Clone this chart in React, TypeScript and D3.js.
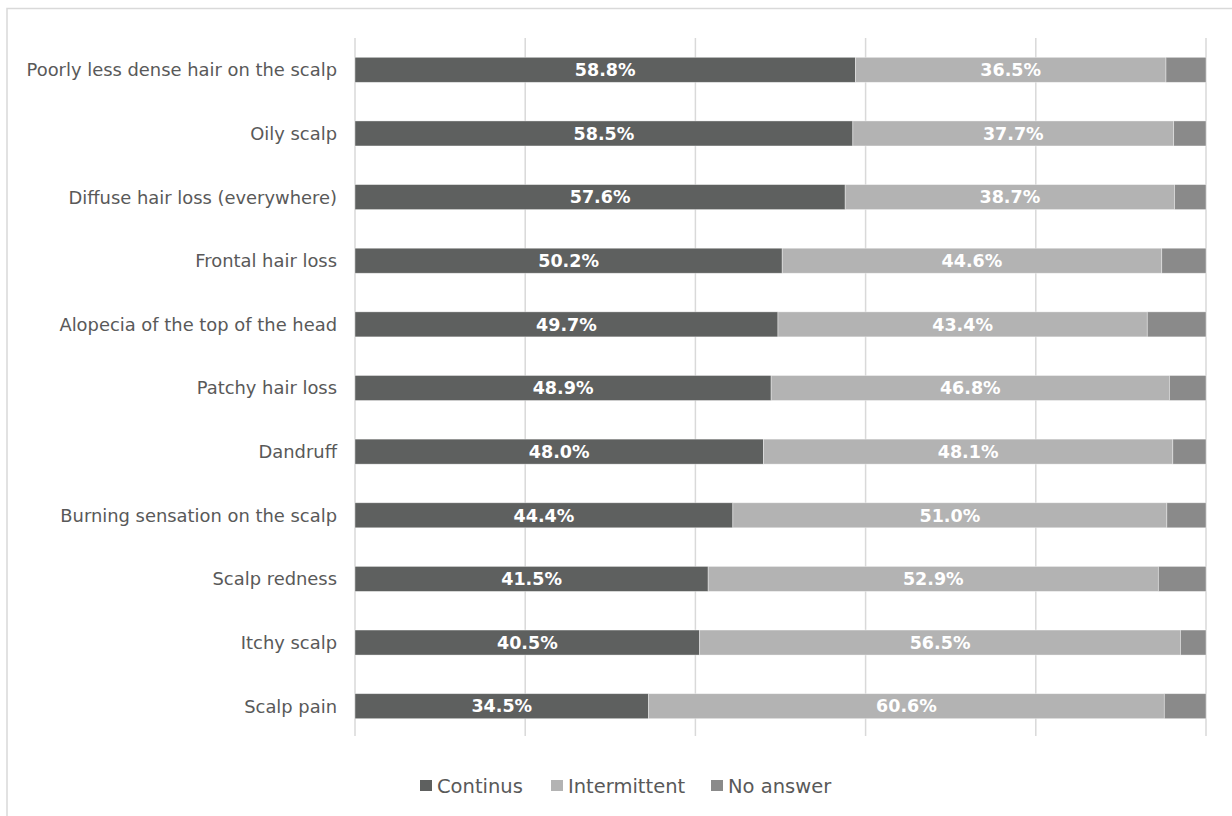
import React from "react";
import * as d3 from "d3";

const categories = [
  "Poorly less dense hair on the scalp",
  "Oily scalp",
  "Diffuse hair loss (everywhere)",
  "Frontal hair loss",
  "Alopecia of the top of the head",
  "Patchy hair loss",
  "Dandruff",
  "Burning sensation on the scalp",
  "Scalp redness",
  "Itchy scalp",
  "Scalp pain",
];
const continus = [58.8, 58.5, 57.6, 50.2, 49.7, 48.9, 48.0, 44.4, 41.5, 40.5, 34.5];
const intermittent = [36.5, 37.7, 38.7, 44.6, 43.4, 46.8, 48.1, 51.0, 52.9, 56.5, 60.6];
const noAnswer = [4.7, 3.8, 3.7, 5.2, 6.9, 4.3, 3.9, 4.6, 5.6, 3.0, 4.9];
const seriesNames = ["Continus", "Intermittent", "No answer"];
const seriesColors = ["#5e605f", "#b3b3b3", "#8a8a8a"];
const xTicks = [0, 20, 40, 60, 80, 100];

export default function App() {
  const W = 1232, H = 816;
  const left = 355, right = 1206, top = 38, bottom = 738;
  const x = d3.scaleLinear().domain([0, 100]).range([left, right]);
  const y = d3.scaleBand().domain(categories).range([top, bottom]).paddingInner(0.607).paddingOuter(0.3035);
  const rows = categories.map((c, i) => ({ c, vals: [continus[i], intermittent[i], noAnswer[i]] }));
  const font = "'DejaVu Sans', sans-serif";
  const legendText = [437, 568, 728];
  return (
    <svg width={W} height={H} style={{ position: "absolute", left: 0, top: 0, background: "#fff" }}>
      <rect x={7} y={8.5} width={1300} height={900} fill="#fff" stroke="#d9d9d9" strokeWidth={1.5} />
      {xTicks.map((t) => (
        <line key={t} x1={x(t)} x2={x(t)} y1={top} y2={736} stroke="#d9d9d9" strokeWidth={1.5} />
      ))}
      {rows.map((r) => {
        let acc = 0;
        const y0 = y(r.c)!;
        return (
          <g key={r.c}>
            {r.vals.map((v, k) => {
              const x0 = x(acc);
              acc += v;
              const x1 = x(Math.min(acc, 100));
              return (
                <g key={k}>
                  <rect x={x0} y={y0} width={x1 - x0} height={y.bandwidth()} fill={seriesColors[k]} stroke="#ffffff" strokeOpacity={0.5} strokeWidth={0.75} />
                  {k < 2 && (
                    <text x={(x0 + x1) / 2} y={y0 + y.bandwidth() / 2} dy="0.36em" textAnchor="middle" fill="#fff" fontWeight="bold" fontSize={17.5} fontFamily={font}>
                      {v.toFixed(1)}%
                    </text>
                  )}
                </g>
              );
            })}
            <text x={337} y={y0 + y.bandwidth() / 2} dy="0.36em" textAnchor="end" fill="#595959" fontSize={17.9} fontFamily={font}>
              {r.c}
            </text>
          </g>
        );
      })}
      {seriesNames.map((s, i) => (
        <g key={s}>
          <rect x={legendText[i] - 17} y={780} width={12} height={11} fill={seriesColors[i]} />
          <text x={legendText[i]} y={786} dy="0.36em" fill="#595959" fontSize={19.5} fontFamily={font}>{s}</text>
        </g>
      ))}
    </svg>
  );
}
